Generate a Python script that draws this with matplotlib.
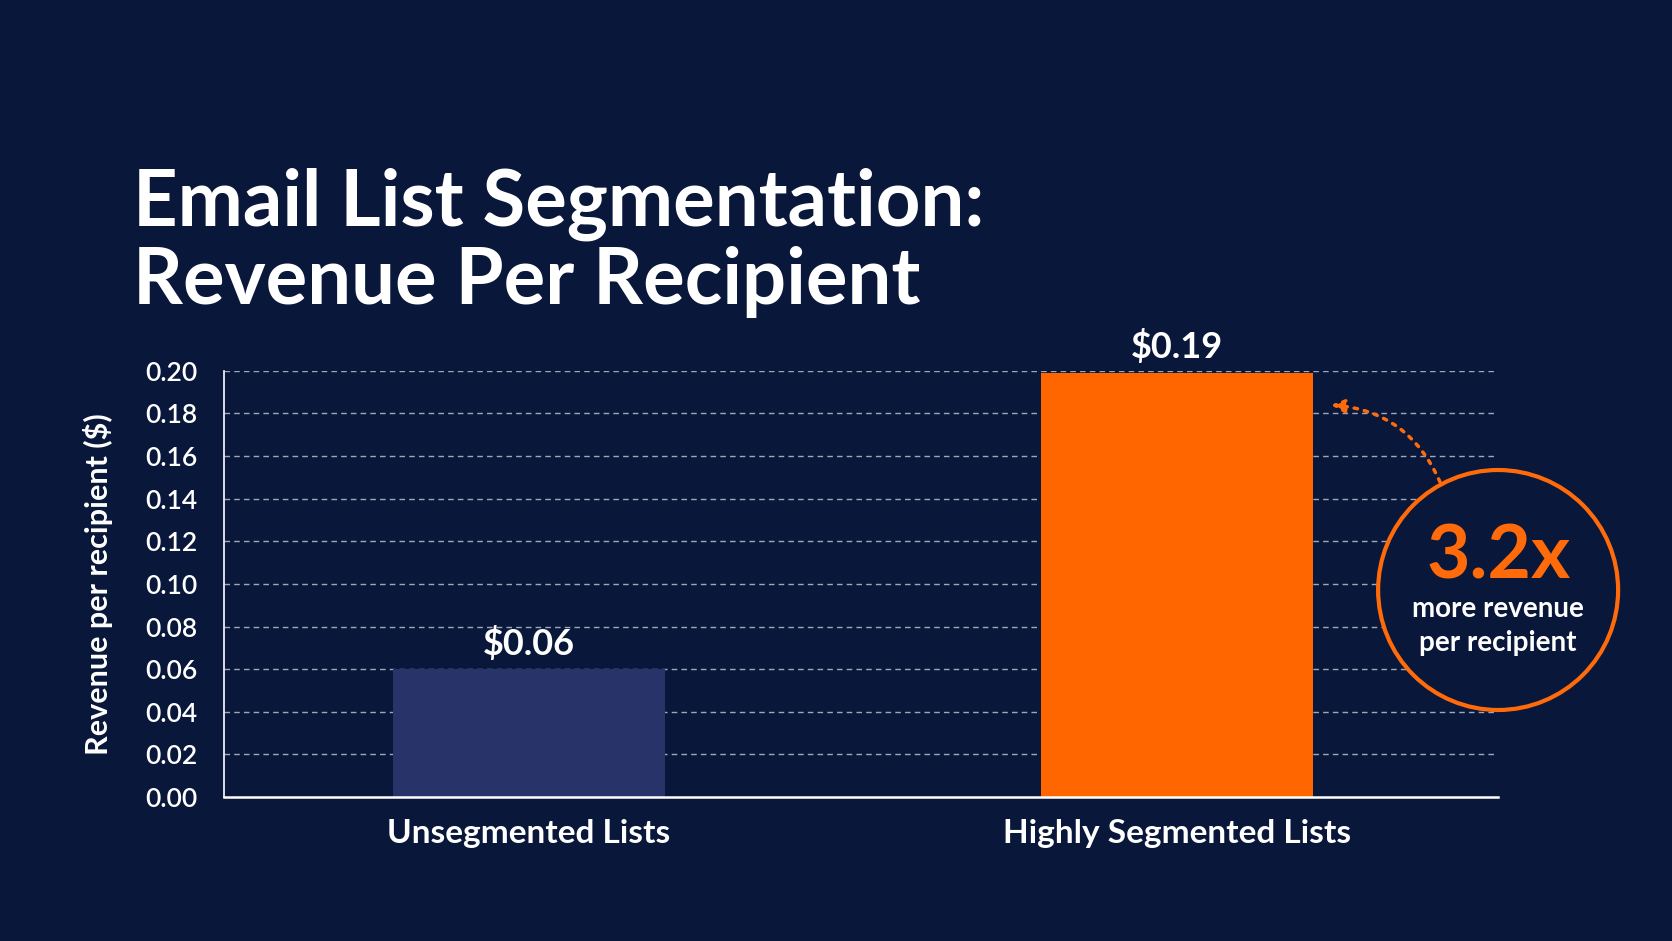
import matplotlib.pyplot as plt
from matplotlib.patches import Ellipse

# data
categories = ["Unsegmented Lists", "Highly Segmented Lists"]
values = [0.06, 0.199]
value_labels = ["$0.06", "$0.19"]
yticks = [0.00, 0.02, 0.04, 0.06, 0.08, 0.10, 0.12, 0.14, 0.16, 0.18, 0.20]

bg = "#09173a"
bar_colors = ["#28336a", "#ff6600"]
orange = "#ff6a0a"

plt.rcParams['font.family'] = ['Lato', 'DejaVu Sans']

fig = plt.figure(figsize=(16.72, 9.41), dpi=100, facecolor=bg)
ax = fig.add_axes([0.134, 0.153, 0.762, 0.453])
ax.set_facecolor(bg)

x = list(range(len(categories)))
bars = ax.bar(x, values, width=0.42, color=bar_colors, zorder=3)

for i, b in enumerate(bars):
    ax.text(b.get_x() + b.get_width() / 2, values[i] + 0.004, value_labels[i],
            ha='center', va='bottom', color='white', fontsize=26,
            fontweight='bold', clip_on=False, zorder=4)

ax.set_xlim(-0.47, 1.496)
ax.set_ylim(0, 0.20)
ax.set_yticks(yticks)
ax.set_yticklabels([f"{t:.2f}" for t in yticks])
ax.set_xticks(x)
ax.set_xticklabels(categories)

ax.tick_params(axis='y', length=0, pad=19, labelsize=19, labelcolor='white')
ax.tick_params(axis='x', length=0, pad=16, labelsize=24, labelcolor='white')
for lab in ax.get_xticklabels():
    lab.set_fontweight('bold')
for lab in ax.get_yticklabels():
    lab.set_fontweight('semibold')

# grid
for t in yticks[1:]:
    ax.axhline(t, color='#c8ccd8', lw=1, ls=(0, (4, 3)), alpha=0.8, zorder=1)

for s in ['top', 'right']:
    ax.spines[s].set_visible(False)
ax.spines['left'].set_color('white')
ax.spines['left'].set_linewidth(1.2)
ax.spines['bottom'].set_color('white')
ax.spines['bottom'].set_linewidth(1.8)
ax.spines['bottom'].set_zorder(5)

ax.set_ylabel("Revenue per recipient ($)", color='white', fontsize=22, fontweight='bold')
ax.yaxis.set_label_coords(-0.087, 0.5)

# title
fig.text(0.0795, 0.742, "Email List Segmentation:\nRevenue Per Recipient", color='white',
         fontsize=56, fontweight='bold', va='center', ha='left', linespacing=1.08)

# callout circle
cx, cy = 0.896, 0.373
circ = Ellipse((cx, cy), 240 / 1672, 240 / 941, transform=fig.transFigure,
               facecolor=bg, edgecolor=orange, lw=3, zorder=6)
fig.add_artist(circ)
fig.text(cx, 1 - 557 / 941, "3.2x", color=orange, fontsize=54, fontweight='bold',
         ha='center', va='center', zorder=7)
fig.text(cx, 1 - 609 / 941, "more revenue", color='white', fontsize=20, fontweight='bold',
         ha='center', va='center', zorder=7)
fig.text(cx, 1 - 643 / 941, "per recipient", color='white', fontsize=20, fontweight='bold',
         ha='center', va='center', zorder=7)

ax.annotate("", xy=(1331, 941 - 405), xycoords='figure pixels',
            xytext=(1440, 941 - 482), textcoords='figure pixels',
            arrowprops=dict(arrowstyle='-|>,head_length=0.8,head_width=0.4', color=orange,
                            lw=2.5, ls=(0, (1, 2)), connectionstyle='arc3,rad=0.3',
                            shrinkA=0, shrinkB=0),
            annotation_clip=False, zorder=7)

fig.savefig("out.png", dpi=100, facecolor=bg)
